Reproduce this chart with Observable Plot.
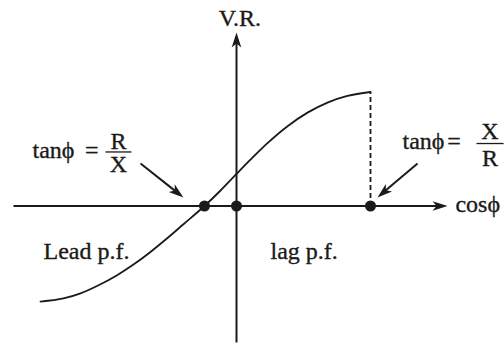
<!DOCTYPE html>
<html>
<head>
<meta charset="utf-8">
<script src="https://cdn.jsdelivr.net/npm/d3@7"></script>
<script src="https://cdn.jsdelivr.net/npm/@observablehq/plot@0.6"></script>
<style>
  html, body { margin: 0; padding: 0; background: #fff; }
  #chart svg { display: block; }
</style>
</head>
<body>
<div id="chart"></div>
<script>
// Curve: voltage regulation vs power factor (chart units)
const curveX = [-1.463, -1.291, -1.164, -1.037, -0.888, -0.769, -0.642, -0.515, -0.396, -0.239, -0.119, 0, 0.104, 0.231, 0.381, 0.530, 0.679, 0.828, 1];
const curveY = [-0.838, -0.811, -0.767, -0.700, -0.605, -0.514, -0.403, -0.281, -0.160, 0, 0.136, 0.281, 0.406, 0.551, 0.700, 0.819, 0.907, 0.965, 1];

// marked points on the cosϕ axis
const dotX = [-0.239, 0, 1];

// axes extents
const xAxisFrom = -1.664, xAxisTo = 1.575;
const yAxisFrom = -1.197, yAxisTo = 1.522;

// scale domains
const xDomain = [-1.7612, 2.0];
const yDomain = [-1.2412, 1.8026];

// pointer arrows [x1, y1, x2, y2]
const pointerArrows = [
  [-0.716, 0.373, -0.396, 0.075],
  [1.351, 0.373, 1.052, 0.075]
];

// labels
const labels = [
  {text: "V.R.", x: 0.026, y: 1.583, anchor: "middle"},
  {text: "tanϕ", x: -1.522, y: 0.425, anchor: "start"},
  {text: "=", x: -1.080, y: 0.425, anchor: "middle"},
  {text: "R", x: -0.881, y: 0.504, anchor: "middle"},
  {text: "X", x: -0.881, y: 0.298, anchor: "middle"},
  {text: "tanϕ", x: 1.239, y: 0.504, anchor: "start"},
  {text: "=", x: 1.623, y: 0.504, anchor: "middle"},
  {text: "X", x: 1.892, y: 0.592, anchor: "middle"},
  {text: "R", x: 1.892, y: 0.355, anchor: "middle"},
  {text: "cosϕ", x: 1.634, y: -0.057, anchor: "start"},
  {text: "Lead p.f.", x: -1.440, y: -0.461, anchor: "start"},
  {text: "lag p.f.", x: 0.254, y: -0.469, anchor: "start"}
];

// fraction bars [x1, x2, y]
const fractionBars = [
  [-0.978, -0.784, 0.474],
  [1.791, 1.993, 0.548]
];

const W = 504, H = 347;
const ink = "#1a1a1a";
const kx = W / (xDomain[1] - xDomain[0]);
const ky = H / (yDomain[1] - yDomain[0]);

const curve = curveX.map((x, i) => ({x, y: curveY[i]}));

// dart-shaped filled arrowhead, tip at origin pointing up
const dart = {
  draw(context) {
    context.moveTo(0, 0);
    context.lineTo(4.8, 15);
    context.lineTo(0, 11);
    context.lineTo(-4.8, 15);
    context.closePath();
  }
};

function angleOf(x1, y1, x2, y2) {
  const dx = (x2 - x1) * kx, dy = -(y2 - y1) * ky;
  return Math.atan2(dx, -dy) * 180 / Math.PI;
}

const heads = [
  {x: xAxisTo, y: 0, rot: angleOf(xAxisFrom, 0, xAxisTo, 0)},
  {x: 0, y: yAxisTo, rot: angleOf(0, yAxisFrom, 0, yAxisTo)},
  ...pointerArrows.map(([x1, y1, x2, y2]) => ({x: x2, y: y2, rot: angleOf(x1, y1, x2, y2)}))
];

const font = "'Liberation Serif', 'Times New Roman', serif";
const textOpts = {x: "x", y: "y", text: "text", lineAnchor: "bottom", fontFamily: font, fontSize: 24, fill: ink, stroke: ink, strokeWidth: 0.35};

const plot = Plot.plot({
  width: W,
  height: H,
  margin: 0,
  x: {domain: xDomain, axis: null},
  y: {domain: yDomain, axis: null},
  style: {background: "#fff", overflow: "visible"},
  marks: [
    // axes
    Plot.link([{x1: xAxisFrom, x2: xAxisTo - 0.05}], {x1: "x1", x2: "x2", y1: 0, y2: 0, stroke: ink, strokeWidth: 2}),
    Plot.link([{y1: yAxisFrom, y2: yAxisTo - 0.05}], {y1: "y1", y2: "y2", x1: 0, x2: 0, stroke: ink, strokeWidth: 2}),
    // dashed drop line
    Plot.link([{x: 1, y1: 0, y2: 1}], {x1: "x", x2: "x", y1: "y1", y2: "y2", stroke: ink, strokeWidth: 1.8, strokeDasharray: "5,3"}),
    // curve
    Plot.line(curve, {x: "x", y: "y", curve: "monotone-x", stroke: ink, strokeWidth: 1.8}),
    // pointer arrow shafts
    Plot.link(pointerArrows, {x1: d => d[0], y1: d => d[1], x2: d => d[2] - (d[2] - d[0]) * 0.15, y2: d => d[3] - (d[3] - d[1]) * 0.15, stroke: ink, strokeWidth: 2}),
    // arrowheads
    Plot.dot(heads, {x: "x", y: "y", rotate: "rot", symbol: dart, fill: ink, stroke: "none", r: 5}),
    // points
    Plot.dot(dotX, {x: d => d, y: 0, r: 5.5, fill: ink, stroke: "none"}),
    // fraction bars
    Plot.link(fractionBars, {x1: d => d[0], x2: d => d[1], y1: d => d[2], y2: d => d[2], stroke: ink, strokeWidth: 1.3}),
    // labels
    Plot.text(labels.filter(d => d.anchor === "start"), {...textOpts, textAnchor: "start"}),
    Plot.text(labels.filter(d => d.anchor === "middle"), {...textOpts, textAnchor: "middle"})
  ]
});

document.getElementById("chart").appendChild(plot);
</script>
</body>
</html>
